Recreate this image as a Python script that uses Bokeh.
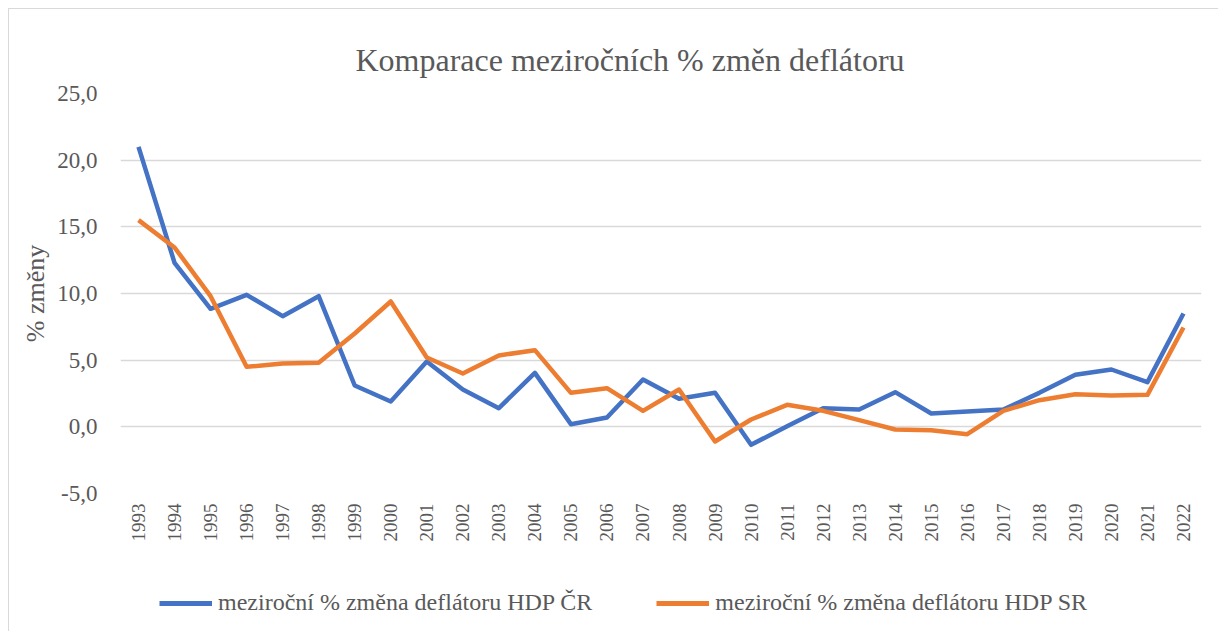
import math
from bokeh.plotting import figure
from bokeh.layouts import column
from bokeh.models import (FactorRange, FixedTicker, CustomJSTickFormatter, Legend, LegendItem, Range1d, ColumnDataSource)
from bokeh.embed import file_html
from bokeh.resources import INLINE

years = [str(y) for y in range(1993, 2023)]
cr = [21.0, 12.3, 8.85, 9.9, 8.3, 9.8, 3.1, 1.9, 4.9, 2.8, 1.4, 4.05, 0.2, 0.7, 3.55,
      2.1, 2.55, -1.35, 0.05, 1.4, 1.3, 2.6, 1.0, 1.15, 1.3, 2.55, 3.9, 4.3, 3.35, 8.5]
sr = [15.5, 13.45, 9.8, 4.5, 4.75, 4.8, 7.0, 9.4, 5.2, 4.0, 5.35, 5.75, 2.55, 2.9, 1.2,
      2.8, -1.1, 0.55, 1.65, 1.2, 0.5, -0.2, -0.25, -0.55, 1.2, 2.0, 2.45, 2.35, 2.4, 7.45]
label_cr = "meziroční % změna deflátoru HDP ČR"
label_sr = "meziroční % změna deflátoru HDP SR"
title_text = "Komparace meziročních % změn deflátoru"
y_label = "% změny"

FONT = "Liberation Serif"
GREY = "#595959"
BLUE = "#4472C4"
ORANGE = "#ED7D31"

src = ColumnDataSource(dict(x=years, cr=cr, sr=sr))

p = figure(width=1209, height=540, x_range=FactorRange(*years, range_padding=0),
           y_range=Range1d(-5, 25), output_backend="svg", toolbar_location=None,
           min_border_left=111, min_border_right=17, min_border_top=84, min_border_bottom=56)
p.outline_line_color = None

p.title.text = title_text
p.title.align = "left"
p.title.offset = 235
p.title.text_font = FONT
p.title.text_font_size = "32px"
p.title.text_font_style = "normal"
p.title.text_color = GREY
p.title.standoff = 32

p.line("x", "cr", source=src, line_color=BLUE, line_width=4.5, line_join="round")
p.line("x", "sr", source=src, line_color=ORANGE, line_width=4.5, line_join="round")

p.yaxis.ticker = FixedTicker(ticks=[-5, 0, 5, 10, 15, 20, 25])
p.yaxis.formatter = CustomJSTickFormatter(code="return tick.toFixed(1).replace('.', ',');")
for ax in (p.xaxis[0], p.yaxis[0]):
    ax.axis_line_color = None
    ax.major_tick_line_color = None
    ax.minor_tick_line_color = None
    ax.major_label_text_font = FONT
    ax.major_label_text_color = GREY
p.yaxis.major_label_text_font_size = "23px"
p.xaxis.major_label_text_font_size = "19px"
p.xaxis.major_label_orientation = math.pi / 2
p.xaxis.major_label_standoff = 4
p.yaxis.major_label_standoff = 17
p.yaxis.axis_label = y_label
p.yaxis.axis_label_text_font = FONT
p.yaxis.axis_label_text_font_size = "26px"
p.yaxis.axis_label_text_font_style = "normal"
p.yaxis.axis_label_text_color = GREY
p.yaxis.axis_label_standoff = 4

p.xgrid.grid_line_color = None
p.ygrid.grid_line_color = "#d9d9d9"
p.ygrid.grid_line_width = 1.5

# legend strip (lines kept outside its visible y range; only the legend shows)
lf = figure(width=1209, height=82, x_range=FactorRange(*years, range_padding=0),
            y_range=Range1d(1000, 1001), output_backend="svg", toolbar_location=None,
            min_border=0)
lf.axis.visible = False
lf.grid.visible = False
lf.outline_line_color = None
l1 = lf.line("x", "cr", source=src, line_color=BLUE, line_width=5)
l2 = lf.line("x", "sr", source=src, line_color=ORANGE, line_width=5)
legend = Legend(items=[LegendItem(label=label_cr, renderers=[l1]),
                       LegendItem(label=label_sr, renderers=[l2])],
                orientation="horizontal", location=(39, 15),
                label_text_font=FONT, label_text_font_size="24px", label_text_color=GREY,
                glyph_width=53, label_standoff=6, spacing=64, padding=0, margin=0,
                border_line_color=None, background_fill_alpha=0)
lf.add_layout(legend, "center")

layout = column(p, lf, spacing=0)
layout.styles = {"margin-left": "8px", "margin-top": "8px",
                 "border-left": "1px solid #d9d9d9", "border-top": "1px solid #d9d9d9"}

open("out.html", "w").write(file_html(layout, INLINE))
